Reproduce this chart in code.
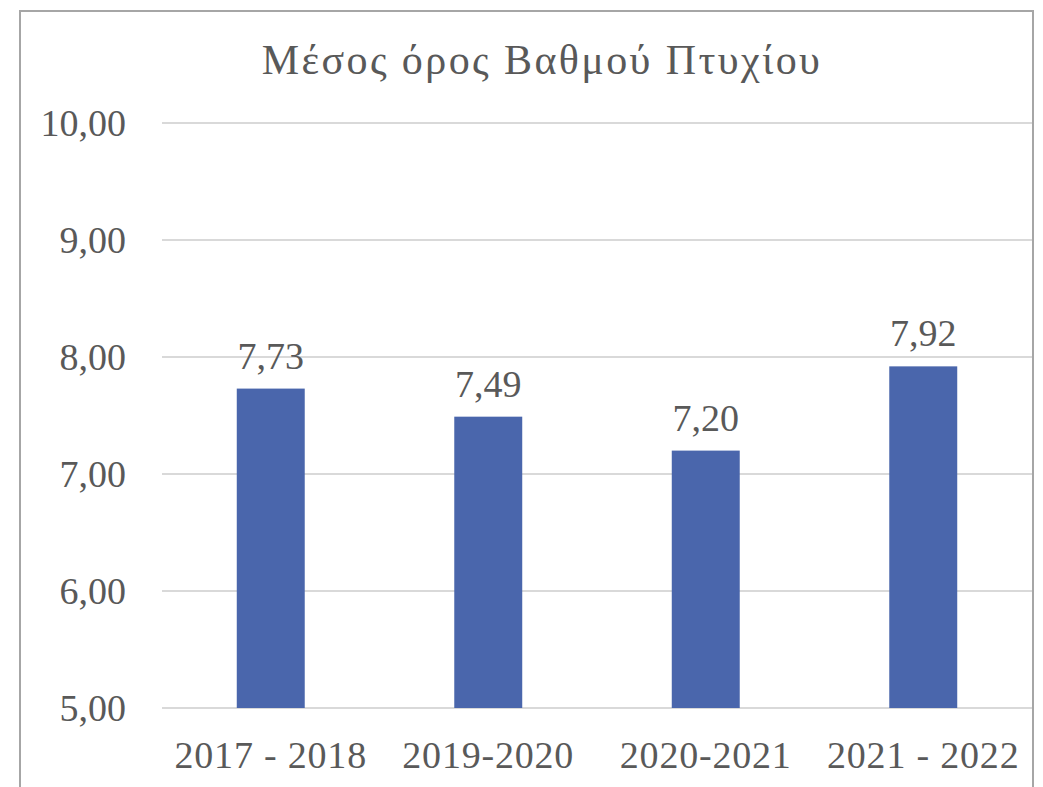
<!DOCTYPE html>
<html>
<head>
<meta charset="utf-8">
<script src="https://cdn.jsdelivr.net/npm/d3@7"></script>
<style>
  body { margin: 0; background: #fff; }
  text { font-family: "Liberation Serif", "DejaVu Serif", serif; fill: #595959; }
</style>
</head>
<body>
<div class="chart"></div>
<script>
const years = ['2017 - 2018', '2019-2020', '2020-2021', '2021 - 2022'];
const grades = [7.73, 7.49, 7.20, 7.92];
const yTicks = [5, 6, 7, 8, 9, 10];

const width = 1043;
const height = 787;
const margin = { top: 123, right: 11, bottom: 79, left: 162 };

const svg = d3
  .select('.chart')
  .append('svg')
  .attr('width', width)
  .attr('height', height);

// chart frame
svg
  .append('rect')
  .attr('x', 20)
  .attr('y', 11)
  .attr('width', 1013)
  .attr('height', 800)
  .attr('fill', '#fff')
  .attr('stroke', '#a6a6a6')
  .attr('stroke-width', 2);

const xScale = d3
  .scaleBand()
  .domain(years)
  .range([margin.left, width - margin.right])
  .paddingInner(0.6875)
  .paddingOuter(0.34375);
const yScale = d3
  .scaleLinear()
  .domain([5, 10])
  .range([height - margin.bottom, margin.top]);
const fmt = v => d3.format('.2f')(v).replace('.', ',');

// gridlines
svg
  .selectAll('.grid')
  .data(yTicks)
  .enter()
  .append('line')
  .attr('x1', margin.left)
  .attr('x2', width - margin.right)
  .attr('y1', d => yScale(d))
  .attr('y2', d => yScale(d))
  .attr('stroke', '#d9d9d9')
  .attr('stroke-width', 2);

// y labels
svg
  .selectAll('.ytick')
  .data(yTicks)
  .enter()
  .append('text')
  .attr('x', 126)
  .attr('y', d => yScale(d) + 13)
  .attr('text-anchor', 'end')
  .style('font-size', '38px')
  .text(fmt);

// bars
svg
  .selectAll('.bar')
  .data(grades)
  .enter()
  .append('rect')
  .attr('x', (d, i) => xScale(years[i]))
  .attr('y', d => yScale(d))
  .attr('width', xScale.bandwidth())
  .attr('height', d => yScale(5) - yScale(d))
  .attr('fill', '#4a66ac');

// value labels
svg
  .selectAll('.val')
  .data(grades)
  .enter()
  .append('text')
  .attr('x', (d, i) => xScale(years[i]) + xScale.bandwidth() / 2)
  .attr('y', d => yScale(d) - 20)
  .attr('text-anchor', 'middle')
  .style('font-size', '38px')
  .text(fmt);

// x labels
svg
  .selectAll('.xtick')
  .data(years)
  .enter()
  .append('text')
  .attr('x', d => xScale(d) + xScale.bandwidth() / 2)
  .attr('y', 768)
  .attr('text-anchor', 'middle')
  .style('font-size', '38px')
  .style('letter-spacing', '0.8px')
  .text(d => d);

// title
svg
  .append('text')
  .attr('x', 542)
  .attr('y', 74)
  .attr('text-anchor', 'middle')
  .style('font-size', '42px')
  .style('letter-spacing', '2.4px')
  .text('Μέσος όρος Βαθμού Πτυχίου');
</script>
</body>
</html>
